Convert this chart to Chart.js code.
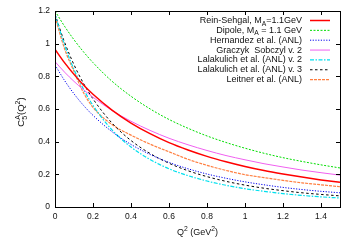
<!DOCTYPE html>
<html><head><meta charset="utf-8">
<script src="https://cdn.jsdelivr.net/npm/chart.js@4.4.1/dist/chart.umd.min.js"></script>
<style>html,body{margin:0;padding:0;background:#fff;}</style>
</head><body>
<canvas id="c" width="350" height="245"></canvas>
<script>
const q2 = [0,0.05,0.1,0.15,0.2,0.3,0.4,0.5,0.6,0.7,0.8,0.9,1.0,1.1,1.2,1.3,1.4,1.5];
const reinSehgal = [0.965,0.884,0.812,0.747,0.690,0.593,0.514,0.449,0.394,0.349,0.310,0.277,0.248,0.223,0.202,0.183,0.166,0.151];
const dipole     = [1.2,1.107,1.024,0.950,0.884,0.770,0.678,0.601,0.536,0.482,0.435,0.395,0.360,0.329,0.302,0.279,0.258,0.239];
const hernandez  = [0.87,0.775,0.693,0.622,0.561,0.461,0.383,0.322,0.273,0.234,0.202,0.176,0.154,0.136,0.120,0.107,0.096,0.087];
const graczyk    = [0.89,0.826,0.769,0.718,0.672,0.591,0.525,0.469,0.421,0.381,0.346,0.315,0.289,0.265,0.245,0.226,0.210,0.195];
const lalakulich2= [1.18,0.992,0.842,0.721,0.622,0.472,0.367,0.291,0.234,0.192,0.159,0.133,0.112,0.096,0.082,0.071,0.062,0.055];
const lalakulich3= [1.18,1.010,0.871,0.757,0.662,0.514,0.407,0.328,0.268,0.222,0.186,0.157,0.134,0.115,0.100,0.087,0.077,0.068];
const leitner    = [1.165,0.97,0.83,0.70,0.61,0.505,0.44,0.385,0.338,0.292,0.255,0.224,0.198,0.180,0.163,0.148,0.136,0.124];
const xTicks = [0,0.2,0.4,0.6,0.8,1.0,1.2,1.4];
const yTicks = [0,0.2,0.4,0.6,0.8,1.0,1.2];

const FONT = '"Liberation Sans", Arial, Helvetica, sans-serif';
const FS = 8.5;   // tick labels
const LFS = 9;    // legend + titles

// legend label pieces: [text, mode] mode: 0 normal, 1 sub, 2 sup
const seriesDefs = [
  {label:[['Rein-Sehgal, M',0],['A',1],['=1.1GeV',0]], data: reinSehgal, color:'#ff0000', dash:[], w:1.5},
  {label:[['Dipole, M',0],['A',1],[' = 1.1 GeV',0]], data: dipole, color:'#00dd00', dash:[2,1.5], w:1},
  {label:[['Hernandez et al. (ANL)',0]], data: hernandez, color:'#0000ee', dash:[1.2,1.5], w:1},
  {label:[['Graczyk  Sobczyl v. 2',0]], data: graczyk, color:'#f060f0', dash:[], w:1},
  {label:[['Lalakulich et al. (ANL) v. 2',0]], data: lalakulich2, color:'#00e0ee', dash:[4,1.5,1.5,1.5], w:1.2},
  {label:[['Lalakulich et al. (ANL) v. 3',0]], data: lalakulich3, color:'#000000', dash:[2.5,2.5], w:1},
  {label:[['Leitner et al. (ANL)',0]], data: leitner, color:'#ff7f40', dash:[3,1], w:1.2}
];

function rich(ctx, parts, x, y, align, size) {
  const seg = [];
  for (let i = 0; i < parts.length; i++) {
    const [t, m] = parts[i];
    const fs = m ? size * 0.75 : size;
    ctx.font = fs + 'px ' + FONT;
    seg.push({t, m, fs, tw: ctx.measureText(t).width});
  }
  let total = 0;
  for (let i = 0; i < seg.length; i++) {
    if (seg[i].m === 1 && seg[i+1] && seg[i+1].m === 2) {
      const sw = Math.max(seg[i].tw, seg[i+1].tw);
      seg[i].adv = 0; seg[i+1].adv = sw; total += sw; i++; continue;
    }
    seg[i].adv = seg[i].tw; total += seg[i].tw;
  }
  let cx = align === 'right' ? x - total : align === 'center' ? x - total / 2 : x;
  ctx.textBaseline = 'alphabetic'; ctx.textAlign = 'left';
  for (const s of seg) {
    ctx.font = s.fs + 'px ' + FONT;
    const dy = s.m === 1 ? size * 0.28 : s.m === 2 ? -size * 0.42 : 0;
    ctx.fillText(s.t, cx, y + dy);
    cx += s.adv;
  }
}

const framePlugin = {
  id: 'frame',
  afterDraw(chart) {
    const ctx = chart.ctx, a = chart.chartArea;
    const xs = chart.scales.x, ys = chart.scales.y;
    ctx.save();
    ctx.strokeStyle = '#000'; ctx.lineWidth = 1;
    ctx.strokeRect(Math.round(a.left) + 0.5, Math.round(a.top) + 0.5, Math.round(a.right - a.left), Math.round(a.bottom - a.top));
    const tl = 4;
    ctx.beginPath();
    for (const v of xTicks) {
      const px = Math.round(xs.getPixelForValue(v)) + 0.5;
      ctx.moveTo(px, a.bottom); ctx.lineTo(px, a.bottom - tl);
      ctx.moveTo(px, a.top); ctx.lineTo(px, a.top + tl);
    }
    for (const v of yTicks) {
      const py = Math.round(ys.getPixelForValue(v)) + 0.5;
      ctx.moveTo(a.left, py); ctx.lineTo(a.left + tl, py);
      ctx.moveTo(a.right, py); ctx.lineTo(a.right - tl, py);
    }
    ctx.stroke();
    // axis titles
    ctx.fillStyle = '#111';
    rich(ctx, [['Q',0],['2',2],[' (GeV',0],['2',2],[')',0]], (a.left + a.right) / 2, 235, 'center', LFS);
    ctx.save();
    ctx.translate(24, (a.top + a.bottom) / 2 + 3);
    ctx.rotate(-Math.PI / 2);
    rich(ctx, [['C',0],['5',1],['A',2],['(Q',0],['2',2],[')',0]], 0, 0, 'center', 9.5);
    ctx.restore();
    // legend
    const lx1 = 310, lx2 = 330, tx = 302;
    chart.data.datasets.forEach((ds, i) => {
      const y = 20 + i * 9.85;
      ctx.fillStyle = '#111';
      rich(ctx, seriesDefs[i].label, tx, y + 3, 'right', LFS);
      ctx.beginPath();
      ctx.strokeStyle = ds.borderColor; ctx.lineWidth = ds.borderWidth;
      ctx.setLineDash(ds.borderDash || []);
      ctx.moveTo(lx1, y + 0.5); ctx.lineTo(lx2, y + 0.5);
      ctx.stroke();
      ctx.setLineDash([]);
    });
    ctx.restore();
  }
};

new Chart(document.getElementById('c'), {
  type: 'line',
  data: {
    datasets: seriesDefs.map(s => ({
      label: s.label.map(p => p[0]).join(''),
      data: q2.map((x, i) => ({x, y: s.data[i]})),
      borderColor: s.color, borderDash: s.dash, borderWidth: s.w,
      pointRadius: 0, fill: false, tension: 0.4, cubicInterpolationMode: 'monotone'
    }))
  },
  options: {
    responsive: false, animation: false, devicePixelRatio: 1,
    layout: {padding: {left: 0, right: 10, top: 11, bottom: 0}},
    plugins: {legend: {display: false}, tooltip: {enabled: false}},
    scales: {
      x: {
        type: 'linear', min: 0, max: 1.5,
        afterBuildTicks: s => { s.ticks = xTicks.map(v => ({value: v})); },
        afterFit: s => { s.height = 38; },
        grid: {display: false, drawTicks: false},
        border: {display: false},
        ticks: {padding: 5, color: '#111', font: {family: FONT, size: FS}, maxRotation: 0, autoSkip: false,
          callback: v => String(+v.toFixed(1))}
      },
      y: {
        type: 'linear', min: 0, max: 1.2,
        afterBuildTicks: s => { s.ticks = yTicks.map(v => ({value: v})); },
        afterFit: s => { s.width = 55; },
        grid: {display: false, drawTicks: false},
        border: {display: false},
        ticks: {padding: 5, color: '#111', font: {family: FONT, size: FS}, autoSkip: false,
          callback: v => String(+v.toFixed(1))}
      }
    }
  },
  plugins: [framePlugin]
});
</script>
</body></html>
